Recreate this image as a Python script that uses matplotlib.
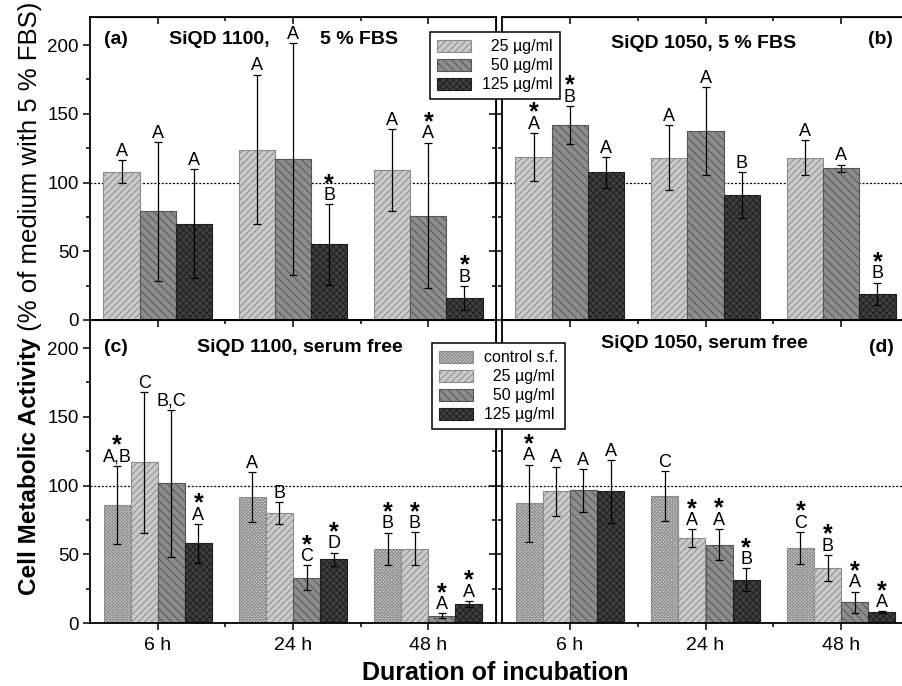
import numpy as np
import matplotlib.pyplot as plt
from matplotlib.ticker import MultipleLocator, FixedLocator

plt.rcParams['font.family'] = ['Liberation Sans', 'DejaVu Sans']
plt.rcParams['hatch.linewidth'] = 0.7

groups = [1, 2, 3]
time_labels = ['6 h', '24 h', '48 h']

# panel (a): SiQD 1100, 5 % FBS
a_mean = {'25': [108, 124, 109], '50': [79, 117, 76], '125': [70, 55, 16]}
a_sd = {'25': [8.6, 54.5, 30], '50': [50.5, 84.4, 53], '125': [39.5, 29.3, 8.9]}
a_lab = {'25': ['A', 'A', 'A'], '50': ['A', 'A', '*A'], '125': ['A', '*B', '*B']}

# panel (b): SiQD 1050, 5 % FBS
b_mean = {'25': [118.5, 118, 118], '50': [142, 137.5, 110.5], '125': [107.5, 91, 19]}
b_sd = {'25': [17.7, 23.8, 12.8], '50': [13.9, 31.7, 2.6], '125': [11.3, 16.5, 8.2]}
b_lab = {'25': ['*A', 'A', 'A'], '50': ['*B', 'A', 'A'], '125': ['A', 'B', '*B']}

# panel (c): SiQD 1100, serum free
c_mean = {'ctrl': [86, 91.5, 54], '25': [117, 80, 54], '50': [101.5, 33, 5.3], '125': [58, 46.5, 13.8]}
c_sd = {'ctrl': [28.4, 18, 11.8], '25': [51.2, 8, 11.9], '50': [53.7, 9, 1.8], '125': [14.2, 4.7, 2.3]}
c_lab = {'ctrl': ['*A,B', 'A', '*B'], '25': ['C', 'B', '*B'], '50': ['B,C', '*C', '*A'], '125': ['*A', '*D', '*A']}

# panel (d): SiQD 1050, serum free
d_mean = {'ctrl': [87, 92.5, 54.5], '25': [95.8, 61.8, 40], '50': [96.5, 57, 15], '125': [95.8, 31.5, 8]}
d_sd = {'ctrl': [28.2, 18, 11.9], '25': [18, 6.3, 9.6], '50': [15.5, 11.4, 7.9], '125': [22.8, 8.2, 0.5]}
d_lab = {'ctrl': ['*A', 'C', '*C'], '25': ['A', '*A', '*B'], '50': ['A', '*A', '*A'], '125': ['A', '*B', '*A']}

series_names = {'ctrl': 'control s.f.', '25': '\u200725 \u00b5g/ml', '50': '\u200750 \u00b5g/ml', '125': '125 \u00b5g/ml'}
styles = {
    'ctrl': dict(color='#d8d8d8', edgecolor='#8c8c8c', hatch='xxxxxxxxxx'),
    '25': dict(color='#cacaca', edgecolor='#8c8c8c', hatch='/////'),
    '50': dict(color='#8c8c8c', edgecolor='#555555', hatch='\\\\\\\\'),
    '125': dict(color='#404040', edgecolor='#1e1e1e', hatch='xxxxx'),
}

W, H = 903, 686
fig = plt.figure(figsize=(W / 100, H / 100), dpi=100)


def box(l, t, r, b):
    return [l / W, 1 - b / H, (r - l) / W, (b - t) / H]


def fxy(x, y):
    return x / W, 1 - y / H


def draw_panel(ax, means, sds, labels, keys, width, left, bottom):
    n = len(keys)
    handles = []
    for i, k in enumerate(keys):
        xs = np.array(groups) + (i - (n - 1) / 2) * width
        h = ax.bar(xs, means[k], width, linewidth=0.8, label=series_names[k], zorder=2, **styles[k])
        handles.append(h)
        ax.errorbar(xs, means[k], yerr=sds[k], fmt='none', ecolor='black', elinewidth=0.9,
                    capsize=2.6, capthick=0.9, zorder=3)
        for x, m, s, lab in zip(xs, means[k], sds[k], labels[k]):
            star = lab.startswith('*')
            txt = lab.lstrip('*')
            ax.annotate(txt, (x, m + s), xytext=(0, 3), textcoords='offset points',
                        ha='center', va='baseline', fontsize=13, zorder=4, annotation_clip=False)
            if star:
                ax.annotate('*', (x, m + s), xytext=(0, 9.5), textcoords='offset points',
                            ha='center', va='baseline', fontsize=18, fontweight='bold',
                            zorder=4, annotation_clip=False)
    ax.axhline(100, color='black', ls=(0, (1.6, 1.4)), lw=0.9, zorder=1)
    ax.set_xlim(0.5, 3.5)
    ax.set_ylim(0, 220.4)
    ax.xaxis.set_major_locator(FixedLocator(groups))
    ax.xaxis.set_minor_locator(FixedLocator([1.5, 2.5]))
    ax.yaxis.set_major_locator(MultipleLocator(50))
    ax.yaxis.set_minor_locator(MultipleLocator(25))
    ax.tick_params(which='both', direction='out', width=1.1, labelsize=13.5, pad=3)
    ax.tick_params(which='major', length=5)
    ax.tick_params(which='minor', length=3)
    ax.tick_params(axis='x', labelsize=14, pad=5)
    for sp in ax.spines.values():
        sp.set_linewidth(1.3)
    top = ax.secondary_xaxis('top')
    top.xaxis.set_major_locator(FixedLocator(groups))
    top.xaxis.set_minor_locator(FixedLocator([1.5, 2.5]))
    top.tick_params(which='both', direction='in', width=1.1, labeltop=False)
    top.tick_params(which='major', length=5)
    top.tick_params(which='minor', length=3)
    right = ax.secondary_yaxis('right')
    right.yaxis.set_major_locator(MultipleLocator(50))
    right.yaxis.set_minor_locator(MultipleLocator(25))
    right.tick_params(which='both', direction='in', width=1.1, labelright=False)
    right.tick_params(which='major', length=5)
    right.tick_params(which='minor', length=3)
    if not left:
        ax.set_yticklabels([])
    if bottom:
        ax.set_xticklabels(time_labels)
    else:
        ax.set_xticklabels([])
    return handles


ax_a = fig.add_axes(box(90, 17, 496, 320))
ax_b = fig.add_axes(box(502, 17, 909, 320))
ax_c = fig.add_axes(box(90, 320, 496, 623))
ax_d = fig.add_axes(box(502, 320, 909, 623))

k3 = ['25', '50', '125']
k4 = ['ctrl', '25', '50', '125']
h_top = draw_panel(ax_a, a_mean, a_sd, a_lab, k3, 0.267, True, False)
draw_panel(ax_b, b_mean, b_sd, b_lab, k3, 0.267, False, False)
h_bot = draw_panel(ax_c, c_mean, c_sd, c_lab, k4, 0.2, True, True)
draw_panel(ax_d, d_mean, d_sd, d_lab, k4, 0.2, False, True)

# panel titles
fig.text(*fxy(116, 40), '(a)', fontsize=14, fontweight='bold', ha='center', va='center')
fig.text(*fxy(219, 40), 'SiQD 1100,', fontsize=14, fontweight='bold', ha='center', va='center')
fig.text(*fxy(359, 40), '5 % FBS', fontsize=14, fontweight='bold', ha='center', va='center')
fig.text(*fxy(704, 43), 'SiQD 1050, 5 % FBS', fontsize=14, fontweight='bold', ha='center', va='center')
fig.text(*fxy(880, 40), '(b)', fontsize=14, fontweight='bold', ha='center', va='center')
fig.text(*fxy(116, 347), '(c)', fontsize=14, fontweight='bold', ha='center', va='center')
fig.text(*fxy(300, 348), 'SiQD 1100, serum free', fontsize=14, fontweight='bold', ha='center', va='center')
fig.text(*fxy(704, 343), 'SiQD 1050, serum free', fontsize=14, fontweight='bold', ha='center', va='center')
fig.text(*fxy(881, 347), '(d)', fontsize=14, fontweight='bold', ha='center', va='center')

leg_kw = dict(loc='upper left', frameon=True, fancybox=False, edgecolor='black', framealpha=1,
              fontsize=11.5, handlelength=2.1, handleheight=0.8, labelspacing=0.25,
              borderpad=0.45, handletextpad=0.7, borderaxespad=0)
leg1 = fig.legend(h_top, [series_names[k] for k in k3], bbox_to_anchor=fxy(430, 32), **leg_kw)
leg2 = fig.legend(h_bot, [series_names[k] for k in k4], bbox_to_anchor=fxy(432, 343), **leg_kw)
for lg in (leg1, leg2):
    lg.get_frame().set_linewidth(1.1)

# axis titles: bold part followed by the normal part along the same line
t1 = fig.text(*fxy(30, 595), 'Cell Metabolic Activity', rotation=90, fontsize=17.5,
              fontweight='bold', ha='center', va='bottom')
fig.add_artist(plt.Annotation(' (% of medium with 5 % FBS)', xy=(0.5, 1), xycoords=t1,
                              rotation=90, fontsize=18.5, ha='center', va='bottom'))
fig.text(*fxy(495, 673), 'Duration of incubation', fontsize=18, fontweight='bold',
         ha='center', va='center')

fig.savefig('out.png', dpi=100)
